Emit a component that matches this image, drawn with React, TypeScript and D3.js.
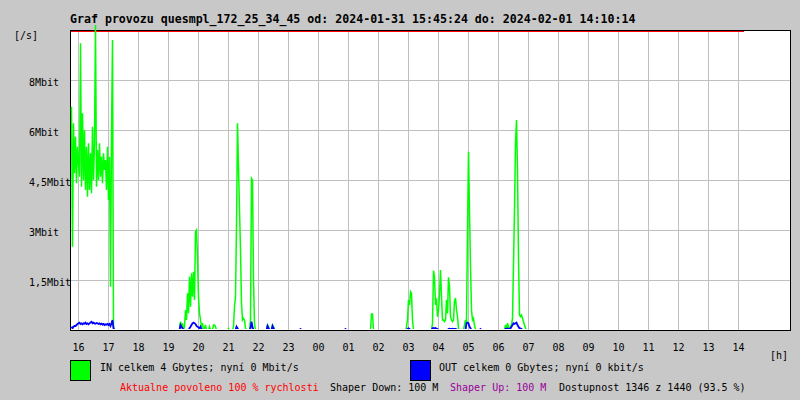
import React from "react";
import * as d3 from "d3";

// ---- Data (Mbit/s), 2-minute steps, bursts; all other times are zero ----
const TITLE = "Graf provozu quesmpl_172_25_34_45 od: 2024-01-31 15:45:24 do: 2024-02-01 14:10:14";
const DATA_END = "14:10";

const IN_STARTS = ["15:45", "19:21", "20:59", "21:43", "22:17", "01:45", "02:55", "03:47", "04:51", "06:13"];
const IN_VALUES: number[][] = [
  [6.7, 2.5, 6.2, 4.7, 5.8, 4.4, 5.5, 5.0, 4.6, 8.6, 4.3, 6.5, 4.5, 6.0, 4.2, 5.5, 4.0, 5.6, 4.2, 5.3, 4.1, 6.1, 4.5, 5.6, 9.15, 4.3, 5.4, 4.5, 5.6, 4.6, 5.2, 4.4, 5.3, 4.8, 5.1, 4.2, 5.5, 3.9, 5.2, 1.3, 5.8, 8.7, 0.1, 0],
  [0, 0.25, 0.1, 0.2, 0, 0.1, 0.6, 0.3, 1.1, 0.5, 1.6, 0.7, 1.7, 1.0, 1.75, 0.9, 2.95, 3.0, 2.2, 1.0, 0.5, 0.3, 0.1, 0.2, 0, 0.05, 0.15, 0, 0, 0, 0.1, 0, 0, 0, 0.15, 0.15, 0.1, 0],
  [0.05, 0, 0, 0, 0, 0.1, 0.7, 1.0, 3.1, 6.2, 4.9, 3.6, 2.4, 0.8, 0.3, 0.35, 0.3, 0.05, 0],
  [0.3, 4.55, 4.5, 1.5, 0.2, 0],
  [0.15, 0.1, 0, 0, 0, 0.15, 0.1, 0],
  [0.48, 0.48, 0, 0],
  [0.1, 0.3, 0.9, 0.75, 1.15, 1.1, 0.3, 0],
  [0.2, 1.78, 1.6, 0.75, 0.95, 0.4, 0.6, 1.05, 1.8, 1.0, 0.3, 0.3, 0.25, 0.3, 0.9, 0.5, 1.58, 1.3, 0.4, 0.3, 0.25, 0.3, 0.87, 0.96, 0.6, 0.4, 0.05, 0],
  [0.15, 0.3, 0.2, 2.95, 5.35, 3.6, 1.9, 0.6, 0.3, 0.35, 0.15, 0],
  [0.15, 0.05, 0.2, 0.1, 0.05, 0.1, 0.15, 0.35, 1.95, 3.6, 5.6, 6.3, 4.8, 2.2, 0.45, 0.4, 0.45, 0.35, 0.25, 0.15, 0.05, 0],
];

const OUT_STARTS = ["15:45", "19:21", "21:13", "21:43", "22:17", "23:23", "00:53", "02:57", "03:47", "04:55", "05:23", "06:13"];
const OUT_VALUES: number[][] = [
  [0.1, 0.05, 0.1, 0.12, 0.12, 0.15, 0.18, 0.2, 0.22, 0.18, 0.2, 0.17, 0.2, 0.19, 0.22, 0.18, 0.2, 0.17, 0.2, 0.23, 0.25, 0.2, 0.22, 0.2, 0.19, 0.21, 0.2, 0.18, 0.2, 0.17, 0.19, 0.16, 0.18, 0.15, 0.17, 0.16, 0.18, 0.15, 0.18, 0.12, 0.2, 0.3, 0.05, 0],
  [0, 0.15, 0.1, 0.05, 0, 0, 0, 0, 0, 0, 0.05, 0.1, 0.15, 0.2, 0.22, 0.2, 0.18, 0.12, 0.1, 0.08, 0.05, 0.1, 0.03, 0],
  [0, 0.1, 0.05, 0],
  [0.05, 0.25, 0.1, 0],
  [0.12, 0.05, 0, 0, 0, 0.12, 0.05, 0],
  [0.03, 0],
  [0.03, 0],
  [0.03, 0.05, 0.03, 0],
  [0.05, 0.06, 0.05, 0.06, 0.04, 0.03, 0, 0, 0, 0, 0, 0, 0, 0, 0, 0, 0.03, 0.04, 0.03, 0.03, 0.04, 0.03, 0.03, 0.03, 0.02, 0],
  [0.2, 0.22, 0.2, 0.1, 0.05, 0],
  [0.03, 0],
  [0.03, 0.03, 0.05, 0.03, 0.03, 0.05, 0.1, 0.15, 0.2, 0.18, 0.2, 0.22, 0.15, 0.1, 0.05, 0.05, 0.03, 0],
];

const Y_TICK_VALUES = [7.5, 6, 4.5, 3, 1.5];
const Y_TICK_LABELS = ["8Mbit", "6Mbit", "4,5Mbit", "3Mbit", "1,5Mbit"];
const X_TICK_LABELS = ["16", "17", "18", "19", "20", "21", "22", "23", "00", "01", "02", "03", "04", "05", "06", "07", "08", "09", "10", "11", "12", "13", "14"];

const LEGEND_IN = "IN celkem 4 Gbytes; nyní 0 Mbit/s";
const LEGEND_OUT = "OUT celkem 0 Gbytes; nyní 0 kbit/s";
const INFO_RED = "Aktualne povoleno 100 % rychlosti";
const INFO_DOWN = "Shaper Down: 100 M";
const INFO_UP = "Shaper Up: 100 M";
const INFO_AVAIL = "Dostupnost 1346 z 1440 (93.5 %)";

// ---- helpers ----
const BASE = Date.UTC(2024, 0, 31, 15, 43);
const MIN = 60000;
function toTime(s: string): number {
  const [h, m] = s.split(":").map(Number);
  const mins = h * 60 + m;
  const day = mins >= 15 * 60 + 43 ? 31 : 32;
  return Date.UTC(2024, 0, day, h, m);
}

function buildSeries(starts: string[], values: number[][]) {
  const map = new Map<number, number>();
  starts.forEach((s, i) => {
    const t0 = toTime(s);
    values[i].forEach((v, j) => map.set(t0 + j * 2 * MIN, v));
  });
  const pts: { t: number; v: number }[] = [];
  const first = toTime("15:45");
  const last = toTime(DATA_END);
  for (let t = first; t <= last; t += 2 * MIN) pts.push({ t, v: map.get(t) ?? 0 });
  return pts;
}

const FONT = "'DejaVu Sans Mono', monospace";

export default function App() {
  const W = 800, H = 400;
  const L = 70, R = 790, T = 30, B = 330;
  const x = d3.scaleUtc().domain([BASE, BASE + 24 * 3600 * 1000]).range([L, R]);
  const y = d3.scaleLinear().domain([0, 9]).range([B, T]);

  const inData = buildSeries(IN_STARTS, IN_VALUES);
  const outData = buildSeries(OUT_STARTS, OUT_VALUES);
  const line = d3.line<{ t: number; v: number }>().x((d) => x(d.t)).y((d) => y(d.v));

  const xTicks = X_TICK_LABELS.map((lab) => ({ lab, t: toTime(lab + ":00") }));

  return (
    <svg width={W} height={H} style={{ position: "absolute", left: 0, top: 0, display: "block" }} fontFamily={FONT}>
      <defs>
        <clipPath id="dataClip">
          <rect x={L} y={0} width={R - L} height={B - 1} />
        </clipPath>
      </defs>
      <rect x={0} y={0} width={W} height={H} fill="#c8c8c8" />
      <rect x={L} y={T} width={R - L} height={B - T} fill="#ffffff" />
      {/* grid */}
      {xTicks.map((d) => (
        <line key={"gx" + d.lab} x1={x(d.t)} x2={x(d.t)} y1={T} y2={B} stroke="#c0c0c0" strokeWidth={1} shapeRendering="crispEdges" />
      ))}
      {Y_TICK_VALUES.map((v) => (
        <line key={"gy" + v} x1={L} x2={R} y1={y(v) + 0.5} y2={y(v) + 0.5} stroke="#c0c0c0" strokeWidth={1} shapeRendering="crispEdges" />
      ))}
      {/* frame */}
      <line x1={L} x2={R + 1} y1={T + 0.5} y2={T + 0.5} stroke="#000" shapeRendering="crispEdges" />
      <line x1={L + 0.5} x2={L + 0.5} y1={T} y2={B + 1} stroke="#000" shapeRendering="crispEdges" />
      <line x1={R + 0.5} x2={R + 0.5} y1={T} y2={B + 1} stroke="#000" shapeRendering="crispEdges" />
      <line x1={L + 1} x2={x(toTime(DATA_END))} y1={T + 1.5} y2={T + 1.5} stroke="#ff0000" shapeRendering="crispEdges" />
      {/* data */}
      <g clipPath="url(#dataClip)">
        <path d={line(inData) ?? ""} fill="none" stroke="#00ff00" strokeWidth={1.5} transform="translate(0.5,0)" />
        <path d={line(outData) ?? ""} fill="none" stroke="#0000ff" strokeWidth={1.8} transform="translate(0.5,0)" />
      </g>
      <line x1={L} x2={R + 1} y1={B + 0.5} y2={B + 0.5} stroke="#000" shapeRendering="crispEdges" />
      {/* title */}
      <text x={70} y={23} fontSize={11.6} fontWeight="bold" fill="#000">{TITLE}</text>
      {/* y labels */}
      <text x={14} y={38.5} fontSize={10} fill="#000">[/s]</text>
      {Y_TICK_VALUES.map((v, i) => (
        <text key={"yl" + v} x={29} y={y(v) + 6} fontSize={10} fill="#000">{Y_TICK_LABELS[i]}</text>
      ))}
      {/* x labels */}
      {xTicks.map((d) => (
        <text key={"xl" + d.lab} x={x(d.t)} y={351} fontSize={10} textAnchor="middle" fill="#000">{d.lab}</text>
      ))}
      <text x={770} y={359} fontSize={10} fill="#000">[h]</text>
      {/* legend */}
      <rect x={70.5} y={360.5} width={20} height={20} fill="#00ff00" stroke="#000" shapeRendering="crispEdges" />
      <text x={100} y={371} fontSize={10} fill="#000">{LEGEND_IN}</text>
      <rect x={410.5} y={360.5} width={20} height={20} fill="#0000ff" stroke="#000" shapeRendering="crispEdges" />
      <text x={439} y={371} fontSize={10} fill="#000">{LEGEND_OUT}</text>
      <text x={120} y={391} fontSize={10} fill="#ff0000">{INFO_RED}</text>
      <text x={330} y={391} fontSize={10} fill="#000">{INFO_DOWN}</text>
      <text x={450} y={391} fontSize={10} fill="#990099">{INFO_UP}</text>
      <text x={559} y={391} fontSize={10} fill="#000">{INFO_AVAIL}</text>
    </svg>
  );
}
